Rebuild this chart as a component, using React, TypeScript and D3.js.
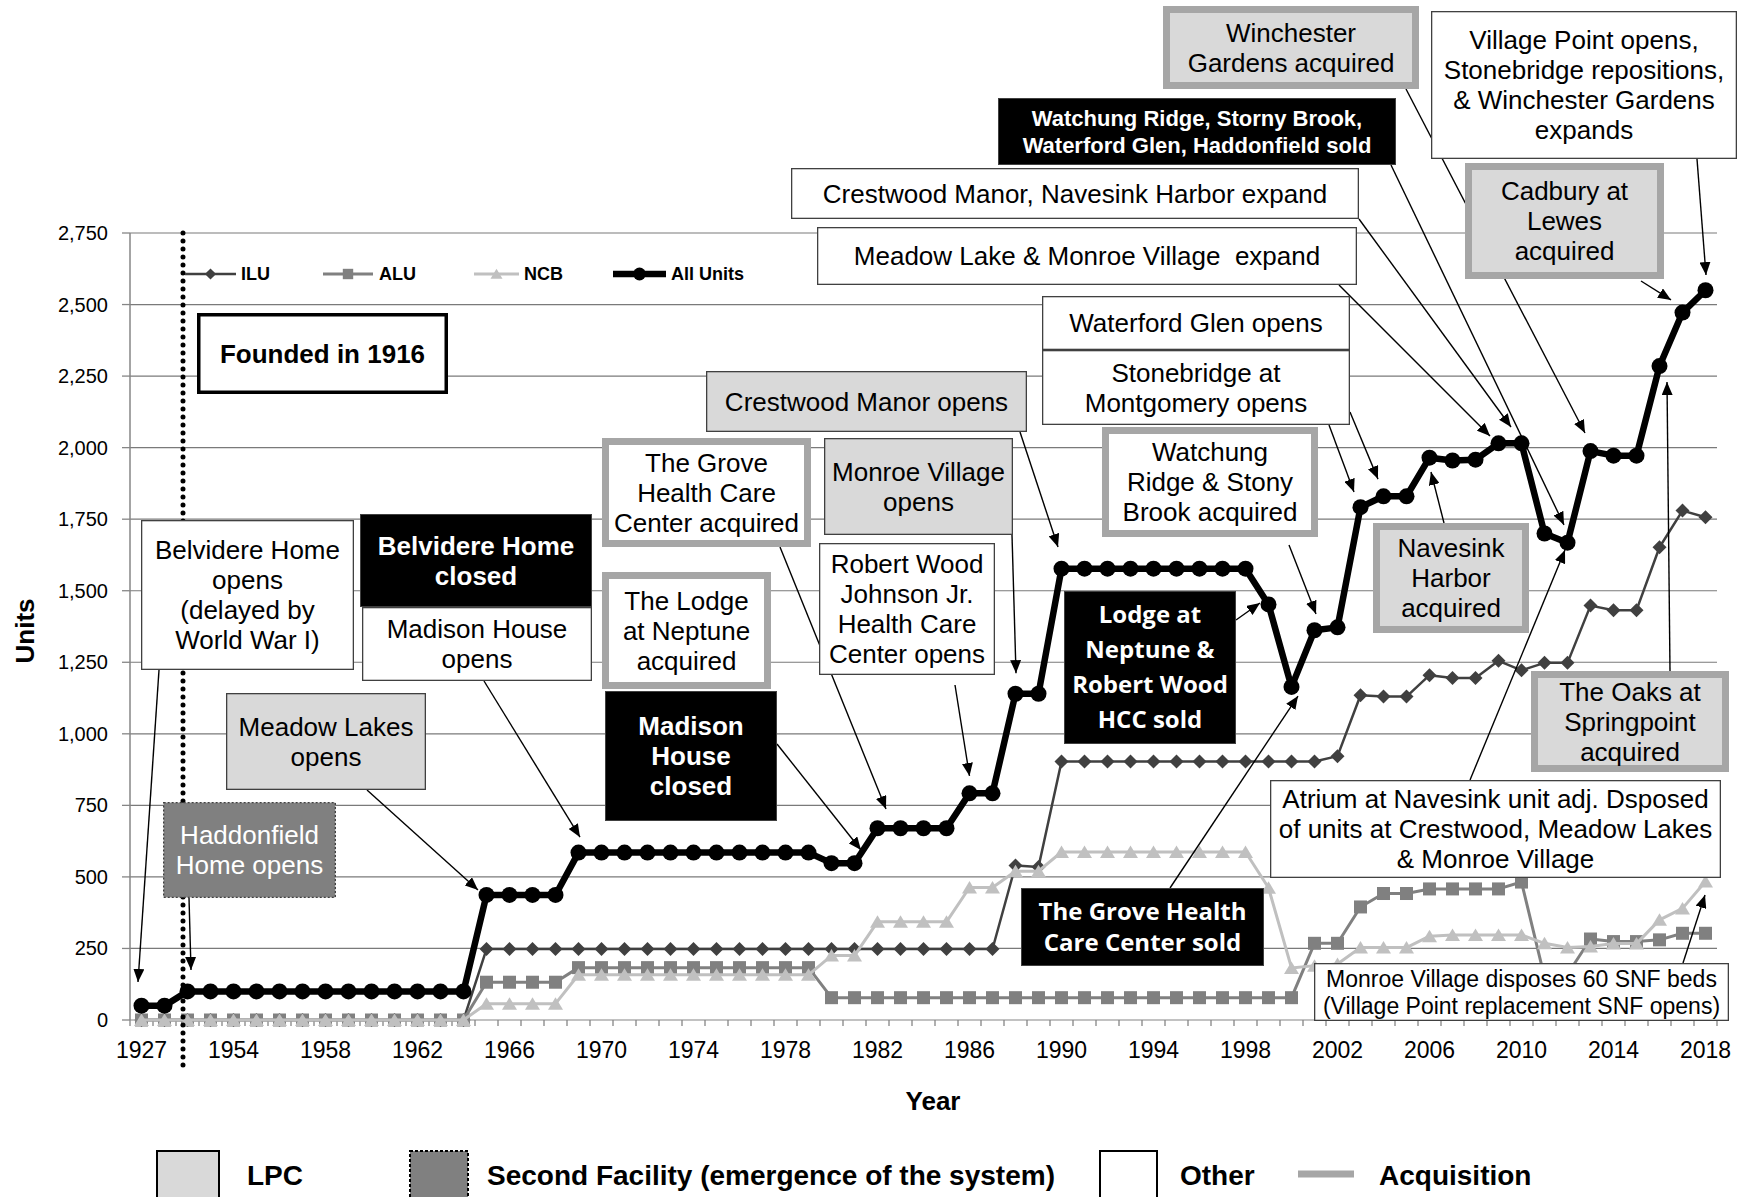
import React from "react";
import * as d3 from "d3";

const WIDTH = 1747;
const HEIGHT = 1197;
const PLOT = { left: 130, right: 1717, top: 233, bottom: 1020 };
const FONT = "'Liberation Sans', Arial, Helvetica, sans-serif";
const FONT_ALT = "'Open Sans', 'Liberation Sans', Arial, sans-serif";

// categories (only every 4th label is shown on the axis)
const years = ["1927", "1928", "1952", "1953", ...d3.range(1954, 2019).map(String)];
const yTicks = [0, 250, 500, 750, 1000, 1250, 1500, 1750, 2000, 2250, 2500, 2750];

const allUnits = [
  50, 50, 100, 100,
  100, 100, 100, 100, 100, 100, 100, 100, 100, 100, 100,
  437, 437, 437, 437,
  585, 585, 585, 585, 585, 585, 585, 585, 585, 585, 585,
  548, 548,
  670, 670, 670, 670,
  792, 792,
  1140, 1140,
  1577, 1577, 1577, 1577, 1577, 1577, 1577, 1577, 1577,
  1452, 1164, 1362, 1372,
  1792, 1830, 1830,
  1965, 1955, 1958,
  2015, 2015,
  1700, 1668,
  1988, 1972, 1972,
  2285, 2472, 2550,
];

const ilu = [
  0, 0, 0, 0,
  0, 0, 0, 0, 0, 0, 0, 0, 0, 0, 0,
  248, 248, 248, 248,
  248, 248, 248, 248, 248, 248, 248, 248, 248, 248, 248,
  248, 248,
  248, 248, 248, 248,
  248, 248,
  540, 535,
  903, 903, 903, 903, 903, 903, 903, 903, 903,
  903, 903, 903, 922,
  1135, 1130, 1130,
  1205, 1195, 1195,
  1255, 1222,
  1248, 1248,
  1448, 1432, 1432,
  1652, 1780, 1757,
];

const alu = [
  0, 0, 0, 0,
  0, 0, 0, 0, 0, 0, 0, 0, 0, 0, 0,
  132, 132, 132, 132,
  183, 183, 183, 183, 183, 183, 183, 183, 183, 183, 183,
  78, 78,
  78, 78, 78, 78,
  78, 78,
  78, 78,
  78, 78, 78, 78, 78, 78, 78, 78, 78,
  78, 78, 268, 268,
  395, 442, 442,
  458, 458, 458,
  458, 482,
  150, 160,
  283, 274, 274,
  280, 303, 303,
];

const ncb = [
  0, 0, 0, 0,
  0, 0, 0, 0, 0, 0, 0, 0, 0, 0, 0,
  57, 57, 57, 57,
  158, 158, 158, 158, 158, 158, 158, 158, 158, 158, 158,
  225, 225,
  343, 343, 343, 343,
  463, 463,
  520, 520,
  587, 587, 587, 587, 587, 587, 587, 587, 587,
  462, 182, 190, 196,
  253, 253, 253,
  293, 297, 297,
  297, 297,
  268, 253,
  257, 267, 267,
  350, 390, 484,
];

const SERIES = [
  { name: "ILU", values: ilu, color: "#404040", width: 2.5, shape: "diamond" },
  { name: "ALU", values: alu, color: "#808080", width: 3, shape: "square" },
  { name: "NCB", values: ncb, color: "#c0c0c0", width: 3, shape: "triangle" },
  { name: "All Units", values: allUnits, color: "#000000", width: 6.5, shape: "circle" },
];

// annotation boxes: layout in page pixels, arrow tips in data space
const NOTES = [
  { x: 141, y: 520, w: 213, h: 150, kind: "other", lines: ["Belvidere Home", "opens", "(delayed by", "World War I)"],
    arrows: [{ from: [159, 670], cat: "1927", v: 133, dx: -3.5 }] },
  { x: 163, y: 802, w: 173, h: 96, kind: "second", lines: ["Haddonfield", "Home opens"],
    arrows: [{ from: [189, 898], cat: "1952", v: 175, dx: 3.5 }] },
  { x: 197, y: 313, w: 251, h: 81, kind: "founded", lines: ["Founded in 1916"] },
  { x: 360, y: 514, w: 232, h: 93, kind: "closed", lines: ["Belvidere Home", "closed"] },
  { x: 362, y: 607, w: 230, h: 74, kind: "other", lines: ["Madison House", "opens"],
    arrows: [{ from: [484, 681], cat: "1969", v: 639, dx: 1.5 }] },
  { x: 226, y: 693, w: 200, h: 97, kind: "lpc", lines: ["Meadow Lakes", "opens"],
    arrows: [{ from: [367, 790], cat: "1965", v: 454, dx: -8.5 }] },
  { x: 602, y: 438, w: 209, h: 109, kind: "acqWhite", lines: ["The Grove", "Health Care", "Center acquired"],
    arrows: [{ from: [780, 547], cat: "1982", v: 737, dx: 8.5 }] },
  { x: 602, y: 572, w: 169, h: 117, kind: "acqWhite", lines: ["The Lodge", "at Neptune", "acquired"] },
  { x: 605, y: 691, w: 172, h: 130, kind: "closed", lines: ["Madison", "House", "closed"],
    arrows: [{ from: [777, 744], cat: "1981", v: 594, dx: 6.5 }] },
  { x: 706, y: 371, w: 321, h: 61, kind: "lpc", lines: ["Crestwood Manor opens"],
    arrows: [{ from: [1020, 432], cat: "1990", v: 1653, dx: -3.5 }] },
  { x: 824, y: 438, w: 189, h: 97, kind: "lpc", lines: ["Monroe Village", "opens"],
    arrows: [{ from: [1012, 535], cat: "1988", v: 1212, dx: 0.5 }] },
  { x: 819, y: 543, w: 176, h: 132, kind: "other", lines: ["Robert Wood", "Johnson Jr.", "Health Care", "Center opens"],
    arrows: [{ from: [955, 685], cat: "1986", v: 853, dx: 0 }] },
  { x: 1042, y: 296, w: 308, h: 54, kind: "other", lines: ["Waterford Glen opens"] },
  { x: 1042, y: 350, w: 308, h: 75, kind: "other", lines: ["Stonebridge at", "Montgomery opens"],
    arrows: [
      { from: [1329, 425], cat: "2003", v: 1845, dx: -6.5 },
      { from: [1350, 412], cat: "2004", v: 1890, dx: -5.5 },
    ] },
  { x: 817, y: 227, w: 540, h: 58, kind: "other", lines: ["Meadow Lake & Monroe Village  expand"],
    arrows: [{ from: [1339, 285], cat: "2009", v: 2041, dx: -8.5 }] },
  { x: 791, y: 168, w: 568, h: 51, kind: "other", lines: ["Crestwood Manor, Navesink Harbor expand"],
    arrows: [{ from: [1359, 219], cat: "2010", v: 2072, dx: -10.5 }] },
  { x: 998, y: 98, w: 398, h: 67, kind: "closed", size: 22, lh: 27,
    lines: ["Watchung Ridge, Storny Brook,", "Waterford Glen, Haddonfield sold"],
    arrows: [{ from: [1391, 165], cat: "2012", v: 1730, dx: -3.5 }] },
  { x: 1163, y: 6, w: 256, h: 83, kind: "acqGray", lines: ["Winchester", "Gardens acquired"],
    arrows: [{ from: [1406, 89], cat: "2013", v: 2051, dx: -5.5 }] },
  { x: 1431, y: 11, w: 306, h: 148, kind: "other",
    lines: ["Village Point opens,", "Stonebridge repositions,", "& Winchester Gardens", "expands"],
    arrows: [{ from: [1697, 159], cat: "2018", v: 2603, dx: 0.5 }] },
  { x: 1465, y: 163, w: 199, h: 116, kind: "acqGray", lines: ["Cadbury at", "Lewes", "acquired"],
    arrows: [{ from: [1641, 281], cat: "2017", v: 2516, dx: -11.5 }] },
  { x: 1102, y: 427, w: 216, h: 110, kind: "acqWhite", lines: ["Watchung", "Ridge & Stony", "Brook acquired"],
    arrows: [{ from: [1289, 545], cat: "2001", v: 1419, dx: 1.5 }] },
  { x: 1373, y: 523, w: 156, h: 110, kind: "acqGray", lines: ["Navesink", "Harbor", "acquired"],
    arrows: [{ from: [1444, 523], cat: "2006", v: 1915, dx: 1.5 }] },
  { x: 1064, y: 591, w: 172, h: 153, kind: "sold", size: 24, lh: 35,
    lines: ["Lodge at", "Neptune &", "Robert Wood", "HCC sold"],
    arrows: [{ from: [1236, 620], cat: "1999", v: 1457, dx: -8.5 }] },
  { x: 1531, y: 671, w: 198, h: 101, kind: "acqGray", lines: ["The Oaks at", "Springpoint", "acquired"],
    arrows: [{ from: [1670, 671], cat: "2016", v: 2229, dx: 7.5 }] },
  { x: 1270, y: 780, w: 451, h: 98, kind: "other",
    lines: ["Atrium at Navesink unit adj. Dsposed", "of units at Crestwood, Meadow Lakes", "& Monroe Village"],
    arrows: [{ from: [1470, 780], cat: "2012", v: 1642, dx: -2.5 }] },
  { x: 1021, y: 888, w: 243, h: 78, kind: "sold", size: 24, lh: 31,
    lines: ["The Grove Health", "Care Center sold"],
    arrows: [{ from: [1170, 888], cat: "2000", v: 1132, dx: 6.5 }] },
  { x: 1314, y: 963, w: 415, h: 58, kind: "other", size: 23, lh: 27,
    lines: ["Monroe Village disposes 60 SNF beds", "(Village Point replacement SNF opens)"],
    arrows: [{ from: [1683, 963], cat: "2018", v: 437, dx: -0.5 }] },
];

const KIND = {
  other: { fill: "#ffffff", stroke: "#404040", sw: 1.3, color: "#000", weight: 400 },
  lpc: { fill: "#d9d9d9", stroke: "#404040", sw: 1.3, color: "#000", weight: 400 },
  second: { fill: "#808080", stroke: "#404040", sw: 1.3, dash: "2 2", color: "#fff", weight: 400 },
  closed: { fill: "#000000", stroke: "#404040", sw: 1, color: "#fff", weight: 700 },
  sold: { fill: "#000000", stroke: "#404040", sw: 1, color: "#fff", weight: 700, family: FONT_ALT },
  acqWhite: { fill: "#ffffff", stroke: "#a6a6a6", sw: 7, color: "#000", weight: 400 },
  acqGray: { fill: "#d9d9d9", stroke: "#a6a6a6", sw: 7, color: "#000", weight: 400 },
  founded: { fill: "#ffffff", stroke: "#000000", sw: 3.5, color: "#000", weight: 700 },
};

const Marker = ({ shape, x, y, color, s = 1 }) => {
  if (shape === "diamond")
    return <path d={`M${x},${y - 7 * s}L${x + 7 * s},${y}L${x},${y + 7 * s}L${x - 7 * s},${y}Z`} fill={color} />;
  if (shape === "square")
    return <rect x={x - 6.5 * s} y={y - 6.5 * s} width={13 * s} height={13 * s} fill={color} />;
  if (shape === "triangle")
    return <path d={`M${x},${y - 6.5 * s}L${x + 7.5 * s},${y + 6 * s}L${x - 7.5 * s},${y + 6 * s}Z`} fill={color} />;
  return <circle cx={x} cy={y} r={8 * s} fill={color} />;
};

const App = () => {
  const xBand = d3.scaleBand().domain(years).range([PLOT.left, PLOT.right]).padding(0);
  const step = xBand.bandwidth();
  const xc = (c) => xBand(c) + step / 2;
  const y = d3.scaleLinear().domain([0, 2750]).range([PLOT.bottom, PLOT.top]);

  const line = d3
    .line()
    .x((_, i) => xc(years[i]))
    .y((d) => y(d));

  // dotted "founded" marker sits just before the 3rd category
  const dottedX = xc(years[2]) - 4.5;

  const legendItems = [
    { s: SERIES[0], x0: 185, x1: 236, tx: 241 },
    { s: SERIES[1], x0: 323, x1: 373, tx: 379 },
    { s: SERIES[2], x0: 474, x1: 519, tx: 524 },
    { s: SERIES[3], x0: 613, x1: 666, tx: 671 },
  ];
  const legendY = 274;

  return (
    <div style={{ position: "absolute", left: 0, top: 0 }}>
      <svg width={WIDTH} height={HEIGHT} style={{ display: "block", background: "#fff" }} fontFamily={FONT}>
        <defs>
          <marker id="arrowhead" markerUnits="userSpaceOnUse" markerWidth={13} markerHeight={11}
            refX={13} refY={5.5} orient="auto">
            <path d="M0,0L13,5.5L0,11Z" fill="#000" />
          </marker>
        </defs>

        {/* gridlines */}
        {yTicks.map((t) => (
          <line key={`g${t}`} x1={PLOT.left} x2={PLOT.right} y1={y(t)} y2={y(t)}
            stroke={t === 0 ? "#868686" : "#7a7a7a"} strokeWidth={1.2} />
        ))}

        {/* y axis */}
        <line x1={PLOT.left} x2={PLOT.left} y1={PLOT.top} y2={PLOT.bottom} stroke="#868686" strokeWidth={1.5} />
        {yTicks.map((t) => (
          <g key={`yt${t}`}>
            <line x1={PLOT.left - 8} x2={PLOT.left} y1={y(t)} y2={y(t)} stroke="#868686" strokeWidth={1.3} />
            <text x={108} y={y(t)} dy="0.35em" textAnchor="end" fontSize={20} fill="#000">
              {d3.format(",")(t)}
            </text>
          </g>
        ))}

        {/* x axis */}
        {years.map((c) => (
          <line key={`xt${c}`} x1={xBand(c)} x2={xBand(c)} y1={PLOT.bottom} y2={PLOT.bottom + 6}
            stroke="#868686" strokeWidth={1.3} />
        ))}
        <line x1={PLOT.right} x2={PLOT.right} y1={PLOT.bottom} y2={PLOT.bottom + 6} stroke="#868686" strokeWidth={1.3} />
        {years.map((c, i) =>
          i % 4 === 0 ? (
            <text key={`xl${c}`} x={xc(c)} y={1058} textAnchor="middle" fontSize={23} fill="#000">
              {c}
            </text>
          ) : null
        )}

        {/* series */}
        {SERIES.map((s) => (
          <g key={s.name}>
            <path d={line(s.values)} fill="none" stroke={s.color} strokeWidth={s.width}
              strokeLinejoin="round" />
            {s.values.map((v, i) => (
              <Marker key={i} shape={s.shape} x={xc(years[i])} y={y(v)} color={s.color} />
            ))}
          </g>
        ))}

        {/* dotted founding line */}
        <line x1={dottedX} x2={dottedX} y1={PLOT.top} y2={1072} stroke="#000" strokeWidth={5}
          strokeDasharray="0 8" strokeLinecap="round" />

        {/* series legend */}
        {legendItems.map(({ s, x0, x1, tx }) => (
          <g key={`lg${s.name}`}>
            <line x1={x0} x2={x1} y1={legendY} y2={legendY} stroke={s.color} strokeWidth={s.width} />
            <Marker shape={s.shape} x={(x0 + x1) / 2} y={legendY} color={s.color} s={0.8} />
            <text x={tx} y={legendY} dy="0.35em" fontSize={18} fontWeight={700} fill="#000">
              {s.name}
            </text>
          </g>
        ))}

        {/* arrows */}
        {NOTES.flatMap((n, ni) =>
          (n.arrows || []).map((a, ai) => (
            <line key={`a${ni}-${ai}`} x1={a.from[0]} y1={a.from[1]} x2={xc(a.cat) + a.dx} y2={y(a.v)}
              stroke="#000" strokeWidth={1.4} markerEnd="url(#arrowhead)" />
          ))
        )}

        {/* annotation boxes */}
        {NOTES.map((n, ni) => {
          const k = KIND[n.kind];
          const size = n.size || 26;
          const lh = n.lh || 30;
          const cy = n.y + n.h / 2;
          return (
            <g key={`n${ni}`}>
              <rect x={n.x + k.sw / 2} y={n.y + k.sw / 2} width={n.w - k.sw} height={n.h - k.sw}
                fill={k.fill} stroke={k.stroke} strokeWidth={k.sw} strokeDasharray={k.dash} />
              {n.lines.map((t, li) => (
                <text key={li} x={n.x + n.w / 2} y={cy + (li - (n.lines.length - 1) / 2) * lh}
                  dy="0.35em" textAnchor="middle" fontSize={size} fontWeight={k.weight}
                  fontFamily={k.family || FONT} fill={k.color} style={{ whiteSpace: "pre" }}>
                  {t}
                </text>
              ))}
            </g>
          );
        })}

        {/* axis titles */}
        <text x={933} y={1101} dy="0.35em" textAnchor="middle" fontSize={26} fontWeight={700}>Year</text>
        <text transform="translate(25,631) rotate(-90)" dy="0.35em" textAnchor="middle" fontSize={26} fontWeight={700}>
          Units
        </text>

        {/* bottom legend */}
        <rect x={157} y={1151} width={62} height={60} fill="#d9d9d9" stroke="#000" strokeWidth={2} />
        <text x={247} y={1175} dy="0.35em" fontSize={28} fontWeight={700}>LPC</text>
        <rect x={410} y={1151} width={58} height={60} fill="#808080" stroke="#000" strokeWidth={2}
          strokeDasharray="3 2" />
        <text x={487} y={1175} dy="0.35em" fontSize={28} fontWeight={700}>
          Second Facility (emergence of the system)
        </text>
        <rect x={1100} y={1151} width={57} height={60} fill="#fff" stroke="#000" strokeWidth={2} />
        <text x={1180} y={1175} dy="0.35em" fontSize={28} fontWeight={700}>Other</text>
        <line x1={1298} x2={1354} y1={1174} y2={1174} stroke="#a6a6a6" strokeWidth={7} />
        <text x={1379} y={1175} dy="0.35em" fontSize={28} fontWeight={700}>Acquisition</text>
      </svg>
    </div>
  );
};

export default App;
